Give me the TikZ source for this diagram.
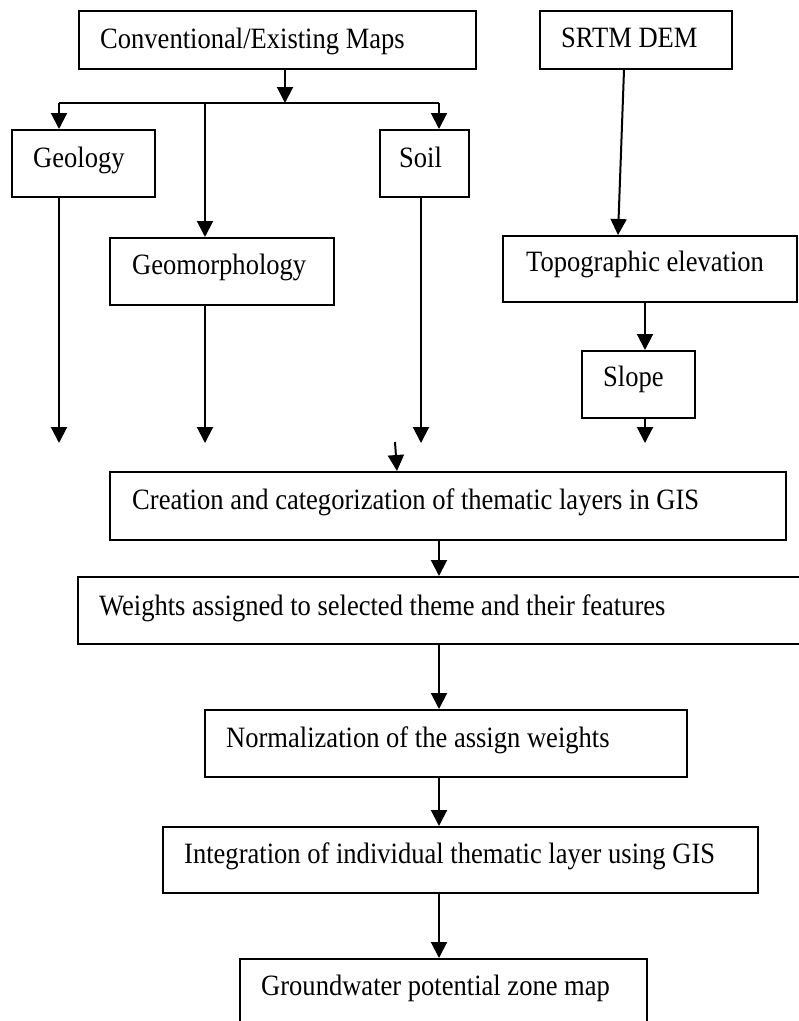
\documentclass[tikz,border=0pt]{standalone}
\usepackage{fontspec}
\setmainfont{Liberation Serif}[FakeStretch=0.9]
\usetikzlibrary{arrows.meta}
\begin{document}
\begin{tikzpicture}[x=1pt,y=-1pt,
  box/.style={draw, line width=2pt, rectangle, inner sep=0pt},
  lbl/.style={inner sep=0pt, anchor=base west, font=\fontsize{29.5}{34}\selectfont},
  conn/.style={line width=2pt},
  arr/.style={line width=2pt, -{Triangle[width=16pt,length=16pt]}}]
\useasboundingbox (0,0) rectangle (799,1021);
\clip (0,0) rectangle (799,1021);
% boxes
\node[box, minimum width=397pt, minimum height=58pt] (conv) at (277.5,40) {};
\node[box, minimum width=192pt, minimum height=58pt] (srtm) at (636,40) {};
\node[box, minimum width=143pt, minimum height=67pt] (geol) at (83.5,163.5) {};
\node[box, minimum width=89pt, minimum height=67pt] (soil) at (424.5,163.5) {};
\node[box, minimum width=224pt, minimum height=67pt] (geom) at (222,271.5) {};
\node[box, minimum width=294pt, minimum height=66pt] (topo) at (650,269) {};
\node[box, minimum width=113pt, minimum height=67pt] (slope) at (638.5,384.5) {};
\node[box, minimum width=676pt, minimum height=68pt] (create) at (448,506) {};
\node[box, minimum width=740pt, minimum height=67pt] (weights) at (447.5,610.5) {};
\node[box, minimum width=482pt, minimum height=67pt] (norm) at (446,743.5) {};
\node[box, minimum width=595pt, minimum height=66pt] (integ) at (460.5,860) {};
\node[box, minimum width=407pt, minimum height=90pt] (gw) at (443.5,1004) {};
% texts
\node[lbl] (tconv) at (100,48) {Conventional/Existing Maps};
\node[lbl] (tsrtm) at (561,47) {SRTM DEM};
\node[lbl] (tgeol) at (33,167) {Geology};
\node[lbl] (tsoil) at (399,167) {Soil};
\node[lbl] (tgeom) at (132,274) {Geomorphology};
\node[lbl] (ttopo) at (526,271) {Topographic elevation};
\node[lbl] (tslope) at (603,386) {Slope};
\node[lbl] (tcreate) at (132,509) {Creation and categorization of thematic layers in GIS};
\node[lbl] (tweights) at (99,615) {Weights assigned to selected theme and their features};
\node[lbl] (tnorm) at (226,747) {Normalization of the assign weights};
\node[lbl] (tinteg) at (184,863) {Integration of individual thematic layer using GIS};
\node[lbl] (tgw) at (261,995) {Groundwater potential zone map};
% junction coordinates
\coordinate (jc) at (285,103);
\coordinate (jl) at (59,103);
\coordinate (jr) at (439,103);
\coordinate (jm) at (205,103);
\coordinate (eg) at (59,443);
\coordinate (em) at (205,443);
\coordinate (es) at (421,443);
\coordinate (ss) at (395,442);
\coordinate (ssend) at (397,472);
\coordinate (esl) at (645,443);
\coordinate (sa) at (624,69);
\coordinate (sb) at (618,236);
\coordinate (ts) at (645,0);
\coordinate (mc) at (439,0);
% connectors
\draw[arr] (conv.south -| jc) -- (jc);
\draw[conn] (jl) -- (jr);
\draw[arr] (jl) -- (jl |- geol.north);
\draw[arr] (jr) -- (jr |- soil.north);
\draw[arr] (jm) -- (jm |- geom.north);
\draw[arr] (geol.south -| eg) -- (eg);
\draw[arr] (geom.south -| em) -- (em);
\draw[arr] (soil.south -| es) -- (es);
\draw[arr] (ss) -- (ssend |- create.north);
\draw[arr] (sa |- srtm.south) -- (sb |- topo.north);
\draw[arr] (topo.south -| ts) -- (slope.north -| ts);
\draw[arr] (slope.south -| esl) -- (esl);
\draw[arr] (create.south -| mc) -- (weights.north -| mc);
\draw[arr] (weights.south -| mc) -- (norm.north -| mc);
\draw[arr] (norm.south -| mc) -- (integ.north -| mc);
\draw[arr] (integ.south -| mc) -- (gw.north -| mc);
\end{tikzpicture}
\end{document}
